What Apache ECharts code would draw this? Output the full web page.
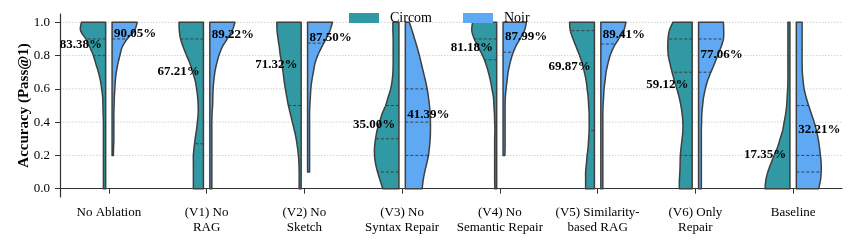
<!DOCTYPE html>
<html><head><meta charset="utf-8">
<script src="https://cdn.jsdelivr.net/npm/echarts@6/dist/echarts.min.js"></script>
<style>html,body{margin:0;padding:0;background:#fff}#c{width:859px;height:248px}</style>
</head><body><div id="c"></div>
<script>
// ---------- data ----------
const categories = ['No Ablation', '(V1) No\nRAG', '(V2) No\nSketch', '(V3) No\nSyntax Repair',
  '(V4) No\nSemantic Repair', '(V5) Similarity-\nbased RAG', '(V6) Only\nRepair', 'Baseline'];
const yTicks = [0, 0.2, 0.4, 0.6, 0.8, 1.0];
// accuracy levels (top to bottom) at which violin half-widths were read (fraction of max width)
const levels = [1.0, 0.95, 0.9, 0.85, 0.8, 0.75, 0.7, 0.65, 0.6, 0.55, 0.5, 0.45, 0.4, 0.35, 0.3, 0.25, 0.2, 0.15, 0.1, 0.05, 0.0];
const circomProfiles = [
  [0.97,1.0,0.79,0.63,0.49,0.39,0.29,0.21,0.16,0.12,0.11,0.10,0.09,0.09,0.09,0.09,0.09,0.09,0.09,0.09,0.09],
  [0.97,0.96,0.91,0.80,0.67,0.53,0.43,0.33,0.27,0.23,0.21,0.21,0.24,0.28,0.33,0.37,0.40,0.40,0.40,0.40,0.40],
  [0.97,0.96,0.92,0.87,0.83,0.77,0.72,0.68,0.63,0.57,0.51,0.43,0.35,0.27,0.20,0.15,0.11,0.09,0.08,0.08,0.08],
  [0.24,0.24,0.23,0.23,0.23,0.23,0.24,0.27,0.33,0.43,0.53,0.67,0.77,0.87,0.93,0.97,0.97,0.93,0.85,0.75,0.64],
  [0.96,0.99,0.89,0.73,0.56,0.43,0.33,0.25,0.19,0.13,0.11,0.09,0.08,0.07,0.08,0.08,0.08,0.08,0.08,0.08,0.07],
  [0.99,0.96,0.85,0.72,0.59,0.48,0.40,0.33,0.29,0.25,0.23,0.21,0.21,0.21,0.23,0.25,0.29,0.32,0.35,0.35,0.35],
  [0.77,0.91,0.96,0.97,0.95,0.88,0.80,0.71,0.61,0.52,0.45,0.40,0.37,0.37,0.40,0.44,0.47,0.48,0.49,0.51,0.51],
  [0.08,0.08,0.08,0.08,0.08,0.08,0.08,0.08,0.09,0.11,0.13,0.17,0.23,0.29,0.39,0.49,0.63,0.76,0.88,0.96,0.99]
];
const noirProfiles = [
  [1.0,0.89,0.60,0.40,0.31,0.23,0.17,0.13,0.11,0.09,0.08,0.07,0.07,0.07,0.07,0.06,0.05,null,null,null,null],
  [1.0,0.89,0.69,0.49,0.36,0.27,0.20,0.16,0.13,0.12,0.11,0.09,0.08,0.08,0.08,0.08,0.08,0.08,0.08,0.08,0.08],
  [0.99,0.89,0.73,0.56,0.40,0.29,0.23,0.17,0.13,0.11,0.09,0.08,0.08,0.08,0.08,0.08,0.08,0.08,0.08,null,null],
  [0.16,0.27,0.37,0.47,0.56,0.64,0.72,0.80,0.87,0.92,0.96,0.99,1.0,1.0,0.99,0.96,0.92,0.85,0.77,0.71,0.67],
  [0.93,0.85,0.67,0.49,0.36,0.27,0.20,0.16,0.12,0.09,0.08,0.08,0.08,0.08,0.08,0.08,0.07,null,null,null,null],
  [1.0,0.91,0.71,0.51,0.37,0.28,0.21,0.17,0.13,0.11,0.09,0.08,0.08,0.08,0.08,0.08,0.08,0.08,0.08,0.08,0.08],
  [0.99,1.0,0.99,0.89,0.76,0.63,0.49,0.36,0.27,0.20,0.16,0.13,0.12,0.11,0.11,0.11,0.11,0.11,0.11,0.11,0.11],
  [0.23,0.23,0.23,0.23,0.23,0.23,0.24,0.27,0.31,0.39,0.49,0.60,0.71,0.80,0.87,0.92,0.96,0.99,0.99,0.96,0.89]
];
const circomQuartiles = [[0.9,0.8],[0.9,0.27],[0.5],[0.5,0.3,0.1],[0.9,0.775],[0.95,0.35],[0.9,0.7,0.2],[]];
const noirQuartiles = [[0.9],[],[0.875],[0.6,0.4,0.2],[0.82],[0.87],[0.9,0.7],[0.5,0.2,0.1]];
const circomMeans = [83.38, 67.21, 71.32, 35.00, 81.18, 69.87, 59.12, 17.35];
const noirMeans = [90.05, 89.22, 87.50, 41.39, 87.99, 89.41, 77.06, 32.21];

// ---------- rendering ----------
const FONT = '"Liberation Serif", "DejaVu Serif", serif';
const COLORS = { Circom: '#3199a3', Noir: '#5fa8f3' };
const EDGE = '#3f3f3f';

function smoothCurve(pts) {
  const out = [], n = pts.length;
  if (n < 2) return pts.slice();
  for (let i = 0; i < n - 1; i++) {
    const p0 = pts[Math.max(i - 1, 0)], p1 = pts[i], p2 = pts[i + 1], p3 = pts[Math.min(i + 2, n - 1)];
    for (let s = 0; s < 8; s++) {
      const t = s / 8, t2 = t * t, t3 = t2 * t;
      const f = k => 0.5 * ((2 * p1[k]) + (-p0[k] + p2[k]) * t + (2 * p0[k] - 5 * p1[k] + 4 * p2[k] - p3[k]) * t2 + (-p0[k] + 3 * p1[k] - 3 * p2[k] + p3[k]) * t3);
      out.push([f(0), f(1)]);
    }
  }
  out.push(pts[n - 1]);
  return out;
}
function xAtY(curve, y) {
  for (let i = 0; i < curve.length - 1; i++) {
    const a = curve[i], b = curve[i + 1];
    if ((y >= a[1] && y <= b[1]) || (y <= a[1] && y >= b[1])) {
      const t = b[1] === a[1] ? 0 : (y - a[1]) / (b[1] - a[1]);
      return a[0] + t * (b[0] - a[0]);
    }
  }
  return curve[curve.length - 1][0];
}
function makeRender(side, profiles, quartiles, means, color) {
  const dir = side === 'left' ? -1 : 1;
  return function (params, api) {
    const i = api.value(0);
    const cx = api.coord([i, 0])[0];
    const band = api.size([1, 0])[0];
    const maxW = band * 0.257;
    const inner = cx + dir * 3.2;
    const raw = [];
    profiles[i].forEach((w, k) => {
      if (w != null) raw.push([inner + dir * w * maxW, api.coord([i, levels[k]])[1]]);
    });
    const curve = smoothCurve(raw);
    const top = curve[0][1], bot = curve[curve.length - 1][1];
    const poly = [[inner, top]].concat(curve, [[inner, bot]]);
    const children = [{
      type: 'polygon', shape: { points: poly },
      style: { fill: color, stroke: EDGE, lineWidth: 1.5, lineJoin: 'round' }
    }];
    quartiles[i].forEach(q => {
      const y = api.coord([i, q])[1];
      children.push({
        type: 'line', shape: { x1: inner, y1: y, x2: xAtY(curve, y), y2: y },
        style: { stroke: EDGE, lineWidth: 1, lineDash: [3, 2] }, z2: 5
      });
    });
    const my = api.coord([i, means[i] / 100])[1];
    children.push({
      type: 'text', x: cx + (side === 'left' ? -7 : 5), y: my + 1, z2: 10,
      style: {
        text: means[i].toFixed(2) + '%', fill: '#000',
        font: 'bold 13px ' + FONT, align: side === 'left' ? 'right' : 'left', verticalAlign: 'bottom'
      }
    });
    return { type: 'group', children };
  };
}

const chart = echarts.init(document.getElementById('c'), null, { renderer: 'canvas' });
chart.setOption({
  animation: false,
  backgroundColor: '#fff',
  textStyle: { fontFamily: FONT },
  grid: { left: 60, right: 17, top: 14, bottom: 51, containLabel: false },
  legend: {
    left: 344, top: 6, itemWidth: 30, itemHeight: 10, itemGap: 31,
    textStyle: { fontSize: 14, color: '#000', fontFamily: FONT, padding: [0, 0, 0, 6] },
    data: [
      { name: 'Circom', icon: 'rect', itemStyle: { color: COLORS.Circom, borderWidth: 0 } },
      { name: 'Noir', icon: 'rect', itemStyle: { color: COLORS.Noir, borderWidth: 0 } }
    ]
  },
  xAxis: {
    type: 'category', data: categories, boundaryGap: true,
    axisLine: { show: true, lineStyle: { color: '#333', width: 1.2 } },
    axisTick: { show: true, alignWithLabel: true, length: 5, lineStyle: { color: '#333', width: 1 } },
    axisLabel: { interval: 0, fontSize: 13, lineHeight: 15, color: '#000', margin: 8, fontFamily: FONT },
    splitLine: { show: false }
  },
  yAxis: {
    type: 'value', min: -0.05, max: 1.05,
    name: 'Accuracy (Pass@1)', nameLocation: 'middle', nameGap: 28, nameRotate: 90,
    nameMoveOverlap: false,
    nameTextStyle: { fontSize: 15, fontWeight: 'bold', color: '#000', fontFamily: FONT },
    axisLine: { show: true, lineStyle: { color: '#333', width: 1.2 } },
    axisTick: { show: true, length: 5, customValues: yTicks, lineStyle: { color: '#333', width: 1 } },
    axisLabel: { customValues: yTicks, formatter: v => Number(v).toFixed(1), fontSize: 13, color: '#000', margin: 10, fontFamily: FONT },
    splitLine: { show: false }
  },
  series: [
    {
      type: 'custom', name: 'grid', silent: true, z: 0,
      data: yTicks.map(v => [0, v]),
      encode: { x: 0, y: 1 },
      renderItem: function (params, api) {
        const y = api.coord([0, api.value(1)])[1];
        const cs = params.coordSys;
        return { type: 'line', shape: { x1: cs.x, y1: y, x2: cs.x + cs.width, y2: y },
          style: { stroke: '#c8c8c8', lineWidth: 0.8, lineDash: [1.5, 1.5] } };
      }
    },
    {
      type: 'custom', name: 'Circom', z: 2, itemStyle: { color: COLORS.Circom },
      data: categories.map((c, i) => [i, circomMeans[i] / 100]), encode: { x: 0, y: 1 },
      renderItem: makeRender('left', circomProfiles, circomQuartiles, circomMeans, COLORS.Circom)
    },
    {
      type: 'custom', name: 'Noir', z: 2, itemStyle: { color: COLORS.Noir },
      data: categories.map((c, i) => [i, noirMeans[i] / 100]), encode: { x: 0, y: 1 },
      renderItem: makeRender('right', noirProfiles, noirQuartiles, noirMeans, COLORS.Noir)
    }
  ]
});
</script>
</body></html>
